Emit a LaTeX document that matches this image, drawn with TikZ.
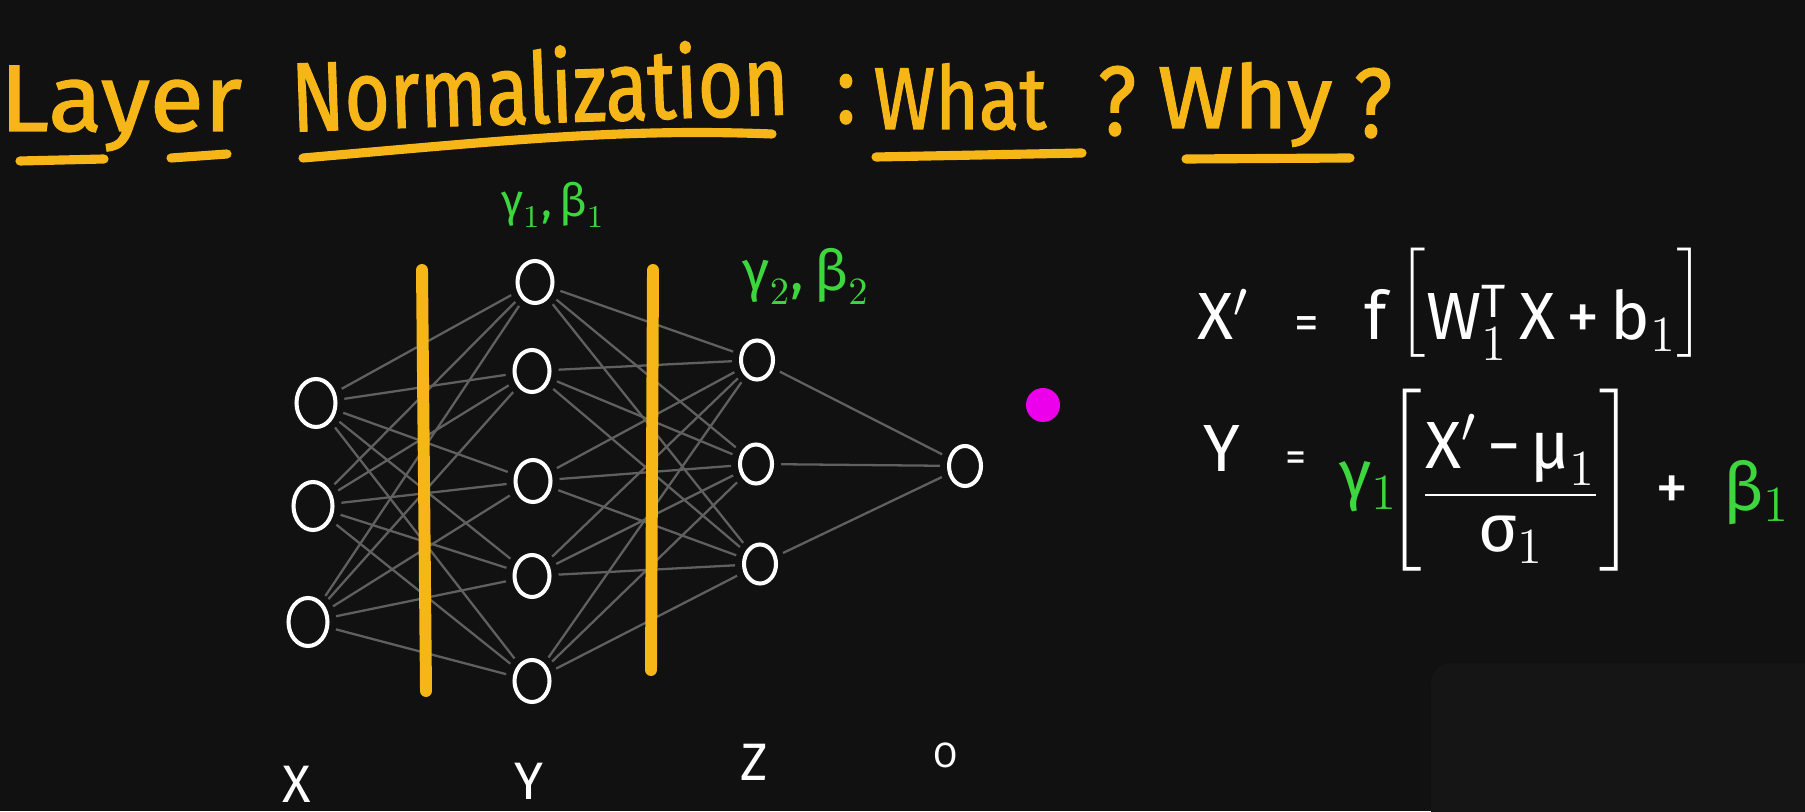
\documentclass[tikz,border=0pt]{standalone}
\usepackage{amsmath}
\usepackage{fontspec}
\usepackage{xcolor}
\usepackage{tikz}
\usetikzlibrary{shapes.geometric, positioning, calc}

\setmainfont{Fira Sans}
\newfontfamily\handfont[FakeStretch=0.85, FakeBold=1.2]{Fira Sans}
\newfontfamily\handnarrow[FakeStretch=0.79, FakeBold=1.2]{Fira Sans}
\newfontfamily\handwide[FakeStretch=1.05, FakeBold=1.2]{Fira Sans}

\definecolor{bgdark}{RGB}{17,17,17}
\definecolor{panel}{RGB}{21,21,21}
\definecolor{marker}{RGB}{246,182,24}
\definecolor{gbgreen}{RGB}{62,214,62}
\definecolor{pinkdot}{RGB}{236,0,236}
\definecolor{wiregray}{RGB}{96,96,96}

\newcommand{\tallbrack}{\vrule height 26pt depth 22pt width 0pt}

\begin{document}
\begin{tikzpicture}[
    neuron/.style={draw=white, line width=1.15pt, ellipse, inner sep=0pt},
    wire/.style={draw=wiregray, line width=0.65pt, shorten <=2pt, shorten >=2pt},
    normbar/.style={draw=marker, line width=3.4pt, line cap=round},
    uline/.style={draw=marker, line width=2.6pt, line cap=round},
    title/.style={font=\handfont\fontsize{28}{30}\selectfont, text=marker,
        anchor=base, inner sep=0pt},
    axislbl/.style={font=\fontsize{15}{17}\selectfont, text=white},
    param/.style={font=\fontsize{13}{15}\selectfont, text=gbgreen},
    eqn/.style={font=\fontsize{19}{23}\selectfont, text=white, inner sep=0pt}
]
% --- Canvas ---
\fill[bgdark] (0,0) rectangle (18.05,8.11);
\useasboundingbox (0,0) rectangle (18.05,8.11);
\fill[panel, rounded corners=6pt] (14.31,1.48) rectangle (18.4,-0.4);

% --- Title ---
\node[title, font=\handwide\fontsize{27}{30}\selectfont] (tLayer) at (1.21,6.80) {Layer};
\node[title, font=\handnarrow\fontsize{28}{30}\selectfont, rotate=2] (tNorm) at (5.41,6.88) {Normalization};
\node[title] (tColon) at (8.46,6.88) {:};
\node[title, font=\handfont\fontsize{25}{28}\selectfont] (tWhat) at (9.60,6.82) {What};
\node[title] (tQ1) at (11.17,6.76) {?};
\node[title, font=\handwide\fontsize{25}{28}\selectfont] (tWhy) at (12.45,6.83) {Why};
\node[title] (tQ2) at (13.73,6.74) {?};

\draw[uline] (0.20,6.50) -- (1.04,6.52);
\draw[uline] (1.71,6.53) -- (2.27,6.57);
\draw[uline] (3.03,6.53) .. controls (5.0,6.70) and (6.2,6.83) .. (7.72,6.77);
\draw[uline] (8.76,6.54) -- (10.82,6.58);
\draw[uline] (11.86,6.52) -- (13.50,6.53);

% --- Input layer X ---
\node[neuron, minimum width=0.39cm, minimum height=0.48cm] (x1) at (3.16,4.08) {};
\node[neuron, minimum width=0.39cm, minimum height=0.48cm] (x2) at (3.13,3.05) {};
\node[neuron, minimum width=0.39cm, minimum height=0.48cm] (x3) at (3.08,1.89) {};

% --- Hidden layer Y ---
\node[neuron, minimum width=0.35cm, minimum height=0.42cm] (y1) at (5.35,5.29) {};
\node[neuron, minimum width=0.35cm, minimum height=0.42cm] (y2) at (5.32,4.40) {};
\node[neuron, minimum width=0.35cm, minimum height=0.42cm] (y3) at (5.33,3.30) {};
\node[neuron, minimum width=0.35cm, minimum height=0.42cm] (y4) at (5.32,2.35) {};
\node[neuron, minimum width=0.35cm, minimum height=0.42cm] (y5) at (5.32,1.30) {};

% --- Hidden layer Z ---
\node[neuron, minimum width=0.32cm, minimum height=0.39cm] (z1) at (7.57,4.51) {};
\node[neuron, minimum width=0.32cm, minimum height=0.39cm] (z2) at (7.56,3.47) {};
\node[neuron, minimum width=0.32cm, minimum height=0.39cm] (z3) at (7.60,2.47) {};

% --- Output O ---
\node[neuron, minimum width=0.32cm, minimum height=0.40cm] (out) at (9.65,3.45) {};

% --- Connections ---
\foreach \i in {1,2,3}
    \foreach \j in {1,...,5}
        \draw[wire] (x\i) -- (y\j);
\foreach \i in {1,...,5}
    \foreach \j in {1,2,3}
        \draw[wire] (y\i) -- (z\j);
\foreach \i in {1,2,3}
    \draw[wire] (z\i) -- (out);

% --- Normalization bars ---
\coordinate (bar1top) at (4.22,5.41);
\coordinate (bar1bot) at (4.26,1.20);
\coordinate (bar2top) at (6.53,5.41);
\coordinate (bar2bot) at (6.51,1.41);
\draw[normbar] (bar1top) -- (bar1bot);
\draw[normbar] (bar2top) -- (bar2bot);

% --- Parameters ---
\node[param] (gb1) at (5.53,6.06) {$\text{γ}_{1}\text{,}\,\text{β}_{1}$};
\node[param, font=\fontsize{16}{18}\selectfont] (gb2) at (8.06,5.35)
    {$\text{γ}_{2}\text{,}\,\text{β}_{2}$};

\node[circle, fill=pinkdot, minimum size=0.34cm, inner sep=0pt] (dot) at (10.43,4.06) {};

% --- Layer names ---
\node[axislbl] (lx) at (2.97,0.27) {X};
\node[axislbl] (ly) at (5.29,0.30) {Y};
\node[axislbl] (lz) at (7.54,0.49) {Z};
\node[axislbl, font=\fontsize{10}{12}\selectfont] (lo) at (9.46,0.56) {O};

% --- Equations ---
\node[eqn, anchor=base west] (eq1) at (11.97,4.71)
    {X$'$\hspace{0.45cm}{\fontsize{14}{14}\selectfont =}\hspace{0.45cm}f\,\raisebox{0.22cm}{$\Bigl[$}W$_{1}^{\text{T}}$\,X\,+\,b$_{1}$\raisebox{0.22cm}{$\Bigr]$}};
\node[eqn, anchor=base west] (eq2l) at (12.03,3.39)
    {Y\hspace{0.45cm}{\fontsize{12}{12}\selectfont =}};
\node[eqn, anchor=base west] (eq2r) at (13.39,3.01)
    {\raisebox{0.12cm}{\color{gbgreen}γ$_{1}$}\hspace{-0.12cm}\raisebox{0.15cm}{$\left[\tallbrack\right.$}\hspace{-0.05cm}$\dfrac{\text{X}'\,\text{−}\,\text{μ}_{1}}{\text{σ}_{1}}$\hspace{-0.05cm}\raisebox{0.15cm}{$\left.\tallbrack\right]$}\hspace{0.2cm}+\hspace{0.35cm}{\color{gbgreen}β$_{1}$}};

\end{tikzpicture}
\end{document}
